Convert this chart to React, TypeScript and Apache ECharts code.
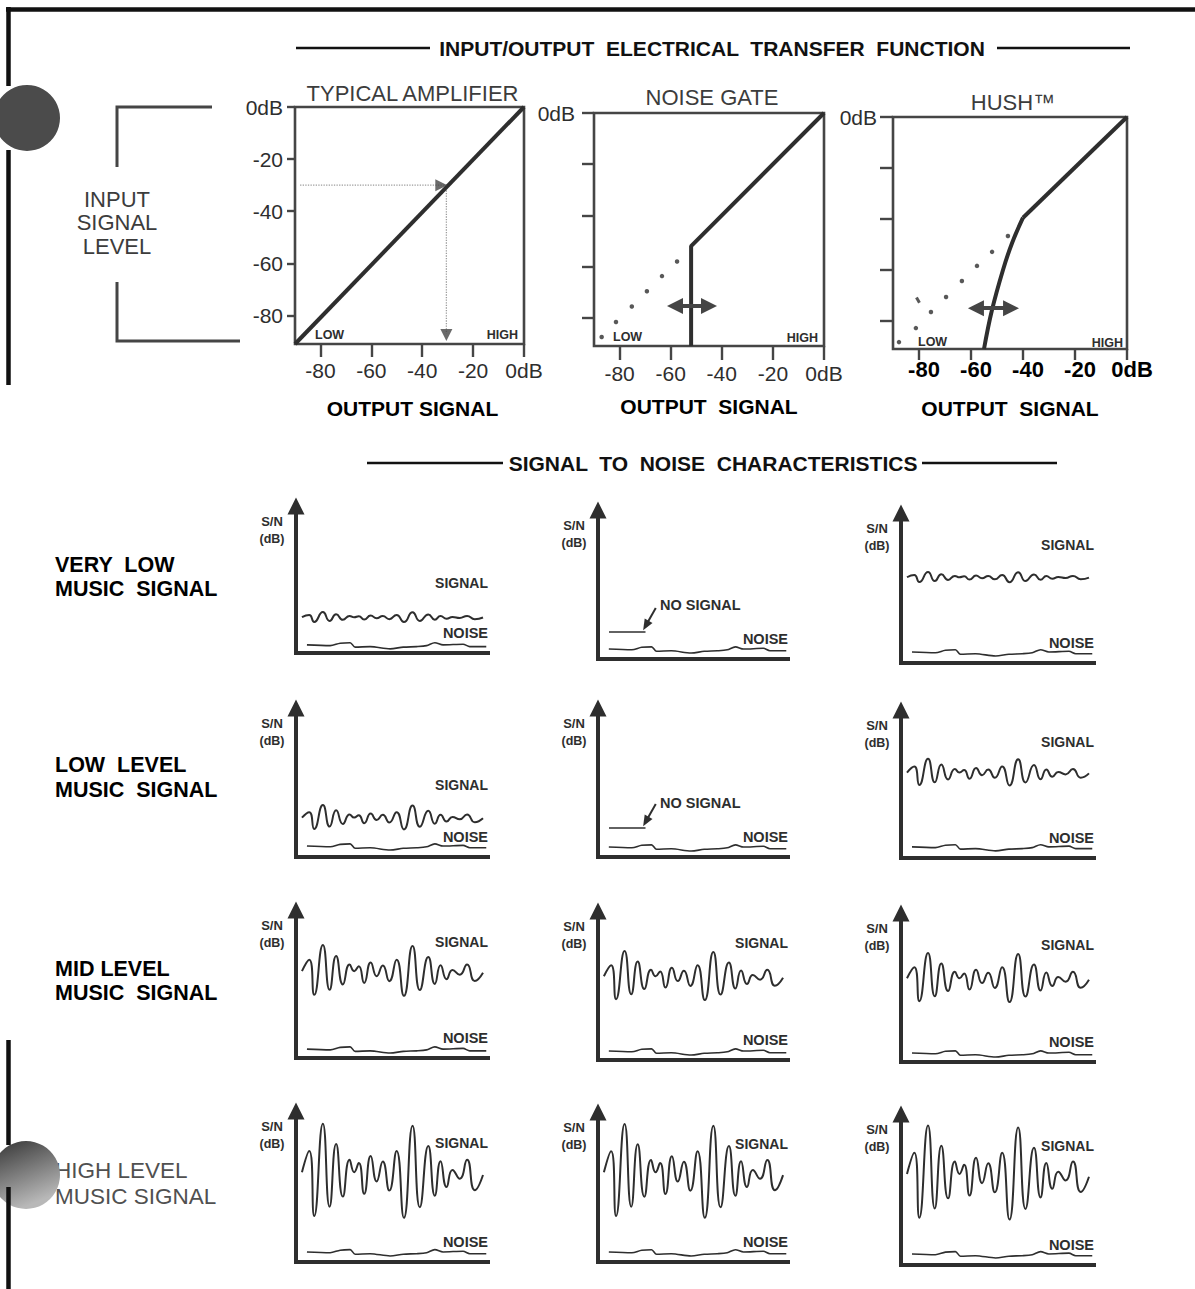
import React, { useEffect, useRef } from "react";
import * as echarts from "echarts";

const FONT = '"Liberation Sans", Arial, Helvetica, sans-serif';
const INK = "#2e2e2e";
const GREY = "#454545";

// ---------- INPUT/OUTPUT ELECTRICAL TRANSFER FUNCTION ----------
const TF_TITLES = ["TYPICAL AMPLIFIER", "NOISE GATE", "HUSH™"];
const TF_TICKS = [-80, -60, -40, -20, 0];
const TF_TICK_LABELS = ["-80", "-60", "-40", "-20", "0dB"];

const AMP_LINE = [[-90, -91], [0, 0]];
const AMP_GUIDE_H = [[-88, -30], [-29, -30]];
const AMP_GUIDE_V = [[-30.5, -31], [-30.5, -87]];
const AMP_MARK_RIGHT = [[-32.5, -30]];
const AMP_MARK_DOWN = [[-30.5, -87.5]];

const GATE_LINE = [[-52, -91], [-52, -52], [0, 0]];
const GATE_DOTS = [[-87, -87.5], [-81.4, -81.6], [-75.2, -75.6], [-69.3, -69.6], [-63.4, -63.7], [-57.5, -58]];
const GATE_ARROW = [[-58.3, -75.4], [-45.0, -75.4]];

const HUSH_LOWER = [[-55, -91], [-52, -76], [-47.7, -60], [-44.2, -49.4], [-40, -39.5]];
const HUSH_UPPER = [[-40, -39.5], [0, 0]];
const HUSH_DOTS = [[-87.7, -88.3], [-81.2, -82.8], [-75.4, -76.5], [-69.6, -70.6], [-63.5, -64.3], [-57.7, -58.4], [-51.9, -52.9], [-45.8, -46.7]];
const HUSH_SMUDGE = [[-80.4, -71.8]];
const HUSH_ARROW = [[-58.1, -75], [-44.6, -75]];

// ---------- SIGNAL TO NOISE CHARACTERISTICS ----------
const ROW_LABELS = [
  ["VERY  LOW", "MUSIC  SIGNAL"],
  ["LOW  LEVEL", "MUSIC  SIGNAL"],
  ["MID LEVEL", "MUSIC  SIGNAL"],
  ["HIGH LEVEL", "MUSIC SIGNAL"],
];
// waveform: x (0-100 along the axis) and normalised swing
const SIGNAL_X = [3.1, 6.9, 9.5, 14.0, 17.5, 20.9, 24.4, 27.9, 30.3, 32.7, 35.5, 38.9, 42.0, 45.2, 48.6, 52.4, 56.2, 60.7, 64.5, 68.9, 72.3, 75.3, 78.4, 81.5, 85.3, 89.1, 93.1, 97.4];
const SIGNAL_SHAPE = [-0.05, 0.41, -1.0, 1.0, -0.8, 0.56, -0.58, 0.22, -0.05, 0.15, -0.52, 0.3, -0.25, 0.18, -0.45, 0.41, -1.04, 0.96, -0.81, 0.52, -0.56, 0.19, -0.37, 0.0, -0.19, 0.22, -0.44, -0.11];
const NOISE_X = [5.7, 17.8, 23.0, 28.2, 30.8, 38.6, 49.0, 55.9, 62.8, 68.0, 72.3, 76.6, 87.0, 90.5, 99.1];
const NOISE_SHAPE = [0.4, 0.1, 1.1, 1.3, -0.5, -0.3, -1.2, -0.5, -0.3, 0.1, 1.3, 0.4, 0.7, -0.3, -0.3];
// S/N (dB, axis 0-60): rows = music level, cols = amplifier / noise gate / hush
const SIGNAL_LEVEL = [
  [14.7, null, 34.4],
  [16.1, null, 34.9],
  [35.7, 34.2, 34.2],
  [36.6, 36.8, 37.1],
];
const SIGNAL_SWING = [
  [2.0, 0, 2.0],
  [4.8, 0, 5.3],
  [10.1, 9.7, 9.7],
  [18.3, 18.4, 18.3],
];
const NO_SIGNAL_LEVEL = [
  [null, 10.9, null],
  [null, 11.7, null],
  [null, null, null],
  [null, null, null],
];
const NOISE_LEVEL = [
  [2.9, 3.6, 4.0],
  [4.0, 3.6, 4.1],
  [3.2, 3.2, 3.2],
  [3.6, 3.6, 4.0],
];

// ---------- layout ----------
const TF_LAYOUT = [
  { left: 295, top: 107, width: 229, height: 237, yTick: 8, xTick: 13, yMargin: 12, xMargin: 16 },
  { left: 594, top: 113, width: 230, height: 233, yTick: 12, xTick: 14, yMargin: 19, xMargin: 17 },
  { left: 893, top: 117, width: 234, height: 232, yTick: 13, xTick: 11, yMargin: 16, xMargin: 9 },
];
const SN_COL_X = [296, 598, 901];
const SN_COL_W = [192, 190, 193];
const SN_TIP_Y = [[498, 502, 505], [700, 700, 702], [902, 903, 905], [1103, 1104, 1106]];
const SN_BASE_Y = [[653, 659, 663], [857, 857, 858], [1058, 1060, 1062], [1262, 1262, 1265]];
const ROW_LABEL_Y = [[565, 589], [765, 790], [969, 993], [1170, 1196]];

function buildOption() {
  const grids: any[] = [];
  const xAxes: any[] = [];
  const yAxes: any[] = [];
  const series: any[] = [];
  const g: any[] = [];

  const text = (x: number, y: number, t: string, o: any = {}) => {
    g.push({
      type: "text",
      x,
      y,
      silent: true,
      z: 10,
      style: {
        text: t,
        fontFamily: FONT,
        fontSize: o.size ?? 20,
        fontWeight: o.weight ?? "bold",
        fill: o.color ?? "#111",
        align: o.align ?? "center",
        verticalAlign: "middle",
        textAlign: o.align ?? "center",
        textVerticalAlign: "middle",
      },
    });
  };
  const line = (pts: number[][], w: number, color = "#111", z = 5) => {
    g.push({ type: "polyline", silent: true, z, shape: { points: pts }, style: { stroke: color, lineWidth: w, fill: null } });
  };

  // page frame and punched holes
  g.push({ type: "circle", silent: true, z: 1, shape: { cx: 27, cy: 118, r: 33 }, style: { fill: "#4b4b4b" } });
  line([[6, 9.5], [1195, 9.5]], 4.5);
  line([[8.5, 7], [8.5, 86]], 4.5);
  line([[8.5, 150], [8.5, 385]], 4.5);
  line([[8.5, 1040], [8.5, 1145]], 4.5);
  g.push({
    type: "circle",
    silent: true,
    z: 11,
    shape: { cx: 26, cy: 1175, r: 34 },
    style: {
      fill: { type: "linear", x: 0, y: 0, x2: 0.4, y2: 1, colorStops: [{ offset: 0, color: "#333" }, { offset: 1, color: "#b8b8b8" }] },
    },
  });
  line([[8.5, 1187], [8.5, 1289]], 4.5, "#111", 12);

  // section titles
  text(712, 48, "INPUT/OUTPUT  ELECTRICAL  TRANSFER  FUNCTION", { size: 21 });
  line([[296, 48], [430, 48]], 2.5);
  line([[997, 48], [1130, 48]], 2.5);
  text(713, 463, "SIGNAL  TO  NOISE  CHARACTERISTICS", { size: 21 });
  line([[367, 463], [503, 463]], 2.5);
  line([[922, 463], [1057, 463]], 2.5);

  // input signal level bracket
  line([[212, 107], [117, 107], [117, 167]], 3, GREY);
  line([[117, 282], [117, 341], [240, 341]], 3, GREY);
  text(117, 199, "INPUT", { size: 22, weight: "normal", color: "#3c3c3c" });
  text(117, 222, "SIGNAL", { size: 22, weight: "normal", color: "#3c3c3c" });
  text(117, 246, "LEVEL", { size: 22, weight: "normal", color: "#3c3c3c" });

  // transfer function charts
  const TITLE_Y = [93, 97, 102];
  const OUT_Y = [408, 406, 408];
  TF_LAYOUT.forEach((L, i) => {
    grids.push({ left: L.left, top: L.top, width: L.width, height: L.height, show: true, borderColor: GREY, borderWidth: 2.6, backgroundColor: "transparent" });
    const lab = (v: number) => TF_TICK_LABELS[TF_TICKS.indexOf(v)] ?? "";
    xAxes.push({
      type: "value",
      gridIndex: i,
      min: -90,
      max: 0,
      axisLine: { show: false, onZero: false },
      splitLine: { show: false },
      axisTick: { show: true, customValues: TF_TICKS, length: L.xTick, lineStyle: { color: GREY, width: 2.4 } },
      axisLabel: {
        show: true,
        customValues: TF_TICKS,
        margin: L.xMargin,
        formatter: lab,
        color: i === 2 ? "#000" : INK,
        fontWeight: i === 2 ? "bold" : "normal",
        fontSize: i === 2 ? 22 : 21,
        fontFamily: FONT,
        padding: i === 2 ? [0, 0, 0, 10] : 0,
      },
    });
    yAxes.push({
      type: "value",
      gridIndex: i,
      min: -91,
      max: 0,
      axisLine: { show: false, onZero: false },
      splitLine: { show: false },
      axisTick: { show: true, customValues: TF_TICKS, length: L.yTick, lineStyle: { color: GREY, width: 2.4 } },
      axisLabel: {
        show: true,
        customValues: i === 0 ? TF_TICKS : [0],
        margin: L.yMargin,
        formatter: lab,
        color: INK,
        fontSize: 21,
        fontFamily: FONT,
      },
    });
    text(L.left + L.width / 2 + 3, TITLE_Y[i], TF_TITLES[i], { size: 22, weight: "normal", color: "#3c3c3c" });
    text(L.left + L.width / 2 + (i === 0 ? 3 : 0), OUT_Y[i], i === 0 ? "OUTPUT SIGNAL" : "OUTPUT  SIGNAL", { size: 21, color: "#000" });
  });
  text(315, 335, "LOW", { size: 12.5, align: "left", color: INK });
  text(518, 335, "HIGH", { size: 12.5, align: "right", color: INK });
  text(613, 337, "LOW", { size: 12.5, align: "left", color: INK });
  text(818, 338, "HIGH", { size: 12.5, align: "right", color: INK });
  text(918, 342, "LOW", { size: 12.5, align: "left", color: INK });
  text(1123, 343, "HIGH", { size: 12.5, align: "right", color: INK });

  const base = (gi: number) => ({ xAxisIndex: gi, yAxisIndex: gi, silent: true, animation: false });
  const lineS = (gi: number, data: number[][], w: number, color: string, extra: any = {}) =>
    series.push({ type: "line", ...base(gi), data, symbol: "none", lineStyle: { width: w, color, ...(extra.lineStyle || {}) }, smooth: extra.smooth ?? false, markLine: extra.markLine, z: 3 });
  const dots = (gi: number, data: number[][], size: any, color: string, symbol = "circle", rotate = 0) =>
    series.push({ type: "scatter", ...base(gi), data, symbol, symbolSize: size, symbolRotate: rotate, itemStyle: { color }, z: 4 });
  const arrowML = (pts: number[][]) => ({
    silent: true,
    symbol: ["triangle", "triangle"],
    symbolSize: [16, 16],
    label: { show: false },
    lineStyle: { type: "solid", color: GREY, width: 4 },
    emphasis: { disabled: true },
    data: [[{ coord: pts[0] }, { coord: pts[1] }]],
  });

  // typical amplifier
  lineS(0, AMP_GUIDE_H, 1.3, "#9c9c9c", { lineStyle: { type: "dotted" } });
  lineS(0, AMP_GUIDE_V, 1.3, "#9c9c9c", { lineStyle: { type: "dotted" } });
  lineS(0, AMP_LINE, 4, INK);
  dots(0, AMP_MARK_RIGHT, [12, 12], GREY, "triangle", -90);
  dots(0, AMP_MARK_DOWN, [12, 12], GREY, "triangle", 180);
  // noise gate
  lineS(1, GATE_LINE, 4, INK, { markLine: arrowML(GATE_ARROW) });
  dots(1, GATE_DOTS, 4.5, INK);
  // hush
  lineS(2, HUSH_LOWER, 4, INK, { smooth: 0.4, markLine: arrowML(HUSH_ARROW) });
  lineS(2, HUSH_UPPER, 4, INK);
  dots(2, HUSH_DOTS, 4.5, INK);
  dots(2, HUSH_SMUDGE, [3, 6], INK, "rect", 30);

  // signal to noise charts
  ROW_LABELS.forEach((rl, r) => {
    const hi = r === 3;
    rl.forEach((t, k) =>
      text(55, ROW_LABEL_Y[r][k], t, { size: hi ? 22.5 : 21.5, weight: hi ? "normal" : "bold", color: hi ? "#505050" : "#000", align: "left" })
    );
    for (let c = 0; c < 3; c++) {
      const gi = grids.length;
      const tip = SN_TIP_Y[r][c];
      const bot = SN_BASE_Y[r][c];
      const x0 = SN_COL_X[c];
      const x1 = x0 + SN_COL_W[c];
      grids.push({ left: x0, top: tip + 8, width: SN_COL_W[c], height: bot - tip - 8 });
      xAxes.push({
        type: "value",
        gridIndex: gi,
        min: 0,
        max: 100,
        axisLine: { show: true, onZero: false, lineStyle: { color: INK, width: 4, cap: "square" } },
        axisTick: { show: false },
        axisLabel: { show: false },
        splitLine: { show: false },
      });
      yAxes.push({
        type: "value",
        gridIndex: gi,
        min: 0,
        max: 60,
        axisLine: { show: true, onZero: false, symbol: ["none", "triangle"], symbolSize: [17, 17], lineStyle: { color: INK, width: 4 } },
        axisTick: { show: false },
        axisLabel: { show: false },
        splitLine: { show: false },
      });
      const lvl = SIGNAL_LEVEL[r][c];
      if (lvl != null) {
        const sw = SIGNAL_SWING[r][c];
        lineS(gi, SIGNAL_X.map((x, k) => [x, lvl + sw * SIGNAL_SHAPE[k]]), 2, INK, { smooth: 0.55 });
        text(x1, tip + (c === 0 && r < 2 ? 85 : 40), "SIGNAL", { size: 14, color: INK, align: "right" });
      }
      const ns = NO_SIGNAL_LEVEL[r][c];
      if (ns != null) {
        lineS(gi, [[5.8, ns], [25, ns]], 1.6, INK, {
          markLine: {
            silent: true,
            symbol: ["none", "triangle"],
            symbolSize: [9, 11],
            label: { show: false },
            lineStyle: { type: "solid", color: INK, width: 2 },
            emphasis: { disabled: true },
            data: [[{ coord: [30.4, ns + 9.6] }, { coord: [25.2, ns + 2.6] }]],
          },
        });
        text(x0 + 62, tip + 103, "NO SIGNAL", { size: 14.5, color: INK, align: "left" });
      }
      const nl = NOISE_LEVEL[r][c];
      lineS(gi, NOISE_X.map((x, k) => [x, nl + NOISE_SHAPE[k]]), 1.6, INK, { smooth: 0.3 });
      text(x1, bot - 20, "NOISE", { size: 14.5, color: INK, align: "right" });
      text(x0 - 24, tip + 23, "S/N", { size: 13, color: INK });
      text(x0 - 24, tip + 41, "(dB)", { size: 12.5, color: INK });
    }
  });

  return {
    animation: false,
    backgroundColor: "#ffffff",
    grid: grids,
    xAxis: xAxes,
    yAxis: yAxes,
    series,
    graphic: { elements: g },
  };
}

export default function App() {
  const ref = useRef<HTMLDivElement>(null);
  useEffect(() => {
    if (!ref.current) return;
    const chart = echarts.init(ref.current, null, { renderer: "svg" });
    chart.setOption(buildOption() as any);
    return () => chart.dispose();
  }, []);
  return (
    <div
      ref={ref}
      style={{ position: "absolute", left: 0, top: 0, width: 1195, height: 1289, background: "#fff" }}
    />
  );
}
